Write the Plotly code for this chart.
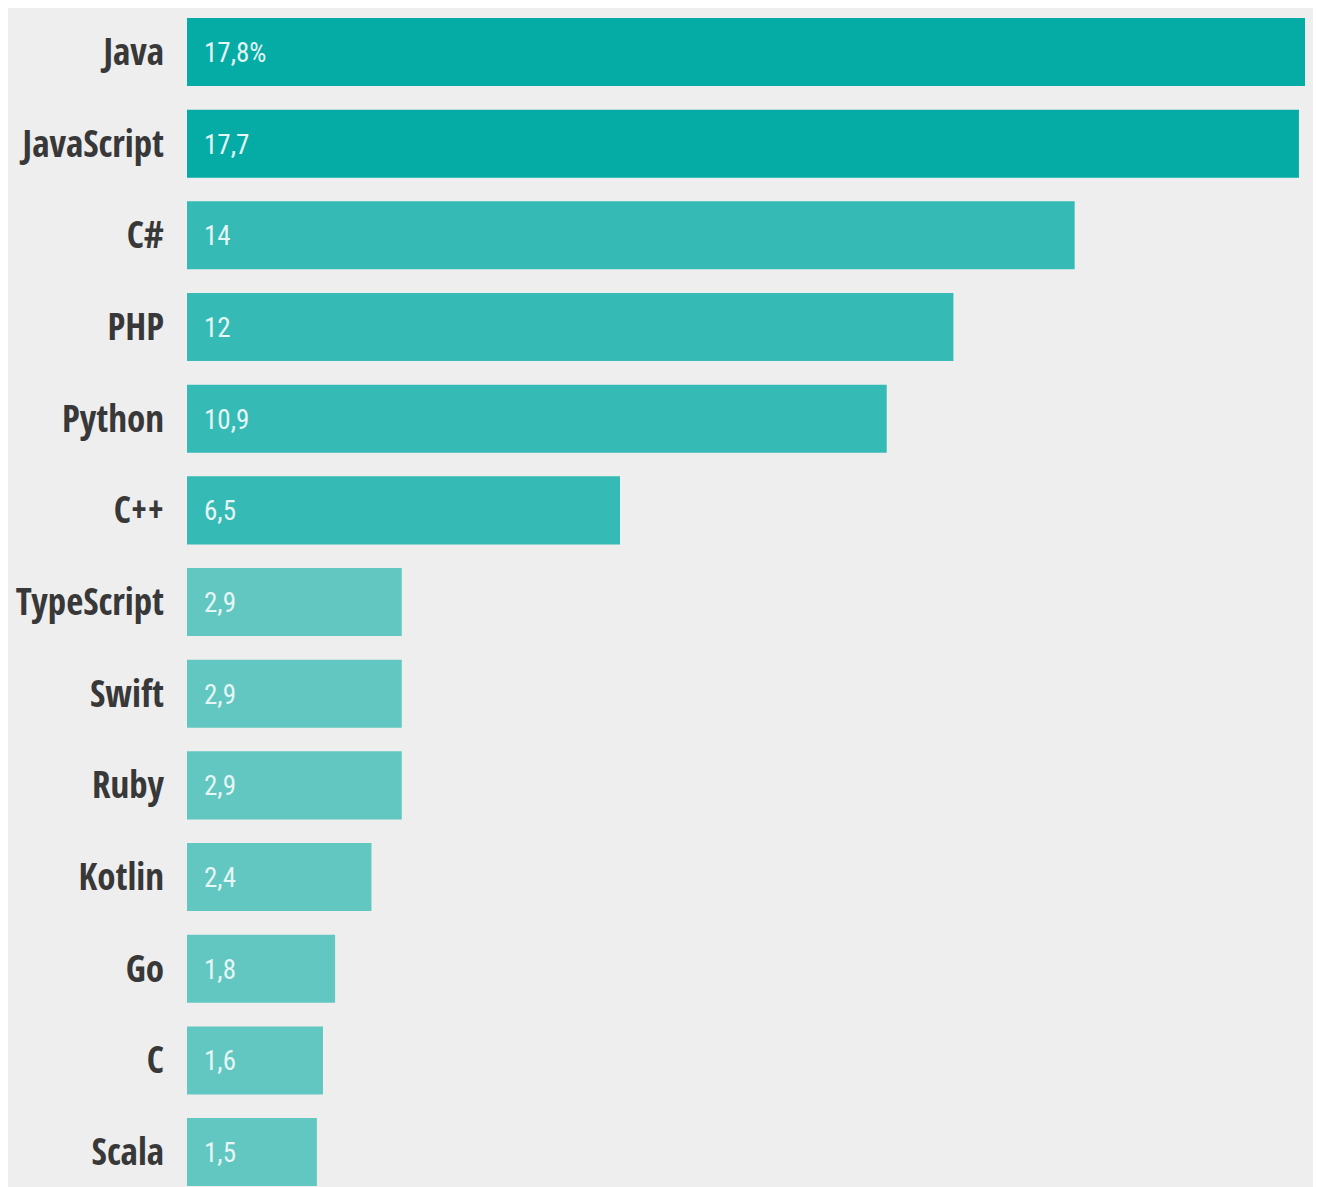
import plotly.graph_objects as go

languages = ["Java", "JavaScript", "C#", "PHP", "Python", "C++", "TypeScript",
             "Swift", "Ruby", "Kotlin", "Go", "C", "Scala"]
shares = [17.8, 17.7, 14, 12, 10.9, 6.5, 2.9, 2.9, 2.9, 2.4, 1.8, 1.6, 1.5]
value_labels = ["17,8%", "17,7", "14", "12", "10,9", "6,5", "2,9", "2,9", "2,9",
                "2,4", "1,8", "1,6", "1,5"]
bar_colors = ["#05aca5", "#05aca5", "#35bab5", "#35bab5", "#35bab5", "#35bab5",
              "#62c7c1", "#62c7c1", "#62c7c1", "#62c7c1", "#62c7c1", "#62c7c1", "#62c7c1"]

OFFSET = 0.643  # bars start a little left of zero in the original design

label_font = "Open Sans Condensed, Roboto Condensed, sans-serif"
value_font = "Roboto Condensed, Open Sans Condensed, sans-serif"

fig = go.Figure()
fig.add_trace(go.Bar(
    y=languages,
    x=[v + OFFSET for v in shares],
    base=[-OFFSET] * len(shares),
    orientation="h",
    marker=dict(color=bar_colors, line=dict(width=0)),
    width=0.742,
    hoverinfo="skip",
))

for lang, lab in zip(languages, value_labels):
    fig.add_annotation(
        x=-OFFSET, y=lang, xref="x", yref="y",
        text=lab, showarrow=False, xanchor="left", yanchor="middle",
        xshift=15, yshift=-1,
        font=dict(family=value_font, size=27, color="#e6f6f5", weight=400),
    )

# light grey panel behind the chart
fig.add_shape(type="rect", xref="paper", yref="paper",
              x0=(8 - 187) / 1118, x1=(1313 - 187) / 1118,
              y0=-0.01, y1=1.0,
              fillcolor="#eeeeee", line=dict(width=0), layer="below")

fig.update_layout(
    width=1317, height=1187,
    margin=dict(l=187, r=12, t=8, b=0, autoexpand=False),
    paper_bgcolor="#ffffff",
    plot_bgcolor="rgba(0,0,0,0)",
    showlegend=False,
    bargap=0.26,
    xaxis=dict(range=[-OFFSET, 17.8], visible=False, fixedrange=True, automargin=False),
    yaxis=dict(
        type="category",
        categoryorder="array", categoryarray=languages,
        range=[12.381, -0.48],
        automargin=False,
        showgrid=False, zeroline=False, showline=False,
        ticks="", ticklabelstandoff=22,
        tickfont=dict(family=label_font, size=37, color="#383838", weight=600),
        fixedrange=True,
    ),
)

fig.write_html("out.html", config={"displayModeBar": False},
               post_script="document.body.style.margin='0';")
